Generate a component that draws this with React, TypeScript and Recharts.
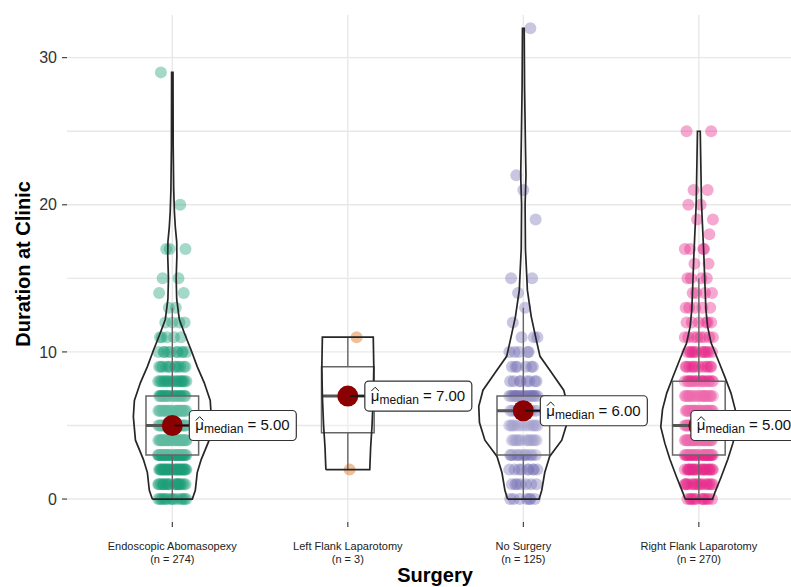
import React from "react";
import {
  CartesianGrid,
  ComposedChart,
  ReferenceArea,
  ReferenceLine,
  Scatter,
  XAxis,
  YAxis,
} from "recharts";

const FONT = "'Liberation Sans', Arial, Helvetica, sans-serif";

const CATEGORIES = [
  "Endoscopic Abomasopexy",
  "Left Flank Laparotomy",
  "No Surgery",
  "Right Flank Laparotomy",
];
const GROUP_N = [274, 3, 125, 270];
const COLORS = ["#1B9E77", "#D95F02", "#7570B3", "#E7298A"];

// box plot stats per group
const MEDIANS = [5, 7, 6, 5];
const Q1 = [3, 4.5, 3, 3];
const Q3 = [7, 9, 7, 8];
const WHISKER_LO = [0, 2, 0, 0];
const WHISKER_HI = [13, 11, 13, 15];

const Y_TICKS = [0, 10, 20, 30];
const Y_GRID = [0, 5, 10, 15, 20, 25, 30];

// [duration, number of animals]
const COUNTS_ENDO = [
  [0, 14], [1, 20], [2, 30], [3, 32], [4, 35], [5, 33], [6, 28], [7, 22],
  [8, 18], [9, 12], [10, 10], [11, 5], [12, 4], [13, 2], [14, 2], [15, 2],
  [17, 3], [20, 1], [29, 1],
];
const COUNTS_LEFT = [[2, 1], [7, 1], [11, 1]];
const COUNTS_NONE = [
  [0, 7], [1, 7], [2, 9], [3, 12], [4, 13], [5, 12], [6, 15], [7, 19],
  [8, 8], [9, 6], [10, 5], [11, 3], [12, 1], [13, 1], [14, 1], [15, 2],
  [19, 1], [21, 1], [22, 1], [32, 1],
];
const COUNTS_RIGHT = [
  [0, 12], [1, 16], [2, 22], [3, 28], [4, 30], [5, 30], [6, 26], [7, 22],
  [8, 18], [9, 12], [10, 12], [11, 8], [12, 6], [13, 5], [14, 4], [15, 4],
  [16, 2], [17, 4], [18, 1], [19, 2], [20, 2], [21, 2], [25, 2],
];

// hand-placed horizontal jitter offsets (category units)
const JITTER = [
  -0.05, 0.03, -0.08, 0.06, -0.01, 0.08, -0.06, 0.01, -0.03, 0.05, -0.07,
  0.07, 0.0, -0.04, 0.04, -0.02, 0.02, -0.075, 0.065, -0.055, 0.035, -0.015,
  0.075, -0.035, 0.045, -0.065, 0.015, -0.045, 0.055, -0.025, 0.025,
];

// violin outlines: [duration, half width in category units]
const VIOLIN_ENDO = [
  [0, 0.114], [0.6, 0.131], [1.8, 0.142], [2.7, 0.165], [4.0, 0.21],
  [5.6, 0.222], [6.7, 0.216], [7.9, 0.182], [9.0, 0.142], [10.1, 0.108],
  [11.3, 0.068], [12.2, 0.04], [13.6, 0.025], [15, 0.022], [16.5, 0.026],
  [17.5, 0.025], [18.5, 0.017], [19.5, 0.012], [21, 0.008], [24, 0.005],
  [29, 0.004],
];
const VIOLIN_LEFT = [
  [2, 0.125], [3.5, 0.13], [5, 0.138], [7, 0.145], [9, 0.148], [11, 0.145],
];
const VIOLIN_NONE = [
  [0, 0.09], [0.6, 0.105], [1.8, 0.122], [2.9, 0.15], [4.0, 0.219],
  [5.2, 0.25], [6.3, 0.254], [7.4, 0.23], [8.6, 0.16], [9.7, 0.095],
  [10.8, 0.074], [12.4, 0.045], [14.2, 0.023], [15, 0.02], [17, 0.012],
  [20, 0.01], [22, 0.015], [24, 0.012], [28, 0.007], [32, 0.005],
];
const VIOLIN_RIGHT = [
  [0, 0.078], [0.4, 0.09], [1.5, 0.127], [2.7, 0.165], [3.8, 0.194],
  [4.9, 0.217], [6.1, 0.207], [7.2, 0.183], [8.3, 0.148], [9.5, 0.108],
  [10.6, 0.07], [11.7, 0.05], [12.9, 0.04], [16.7, 0.028], [20.1, 0.015],
  [25, 0.008],
];

const COUNTS = [COUNTS_ENDO, COUNTS_LEFT, COUNTS_NONE, COUNTS_RIGHT];
const VIOLINS = [VIOLIN_ENDO, VIOLIN_LEFT, VIOLIN_NONE, VIOLIN_RIGHT];
const LABEL_DX = [17, 17, 17, -8];
const BOX_HALF = 0.15;

function jitterPoints(g: number) {
  const pts: { x: number; y: number }[] = [];
  let k = g * 7;
  COUNTS[g].forEach(([v, c]) => {
    for (let i = 0; i < c; i++) {
      pts.push({ x: g + 1 + JITTER[k % JITTER.length], y: v });
      k++;
    }
  });
  return pts;
}

function violinOutline(g: number) {
  const c = g + 1;
  const prof = VIOLINS[g];
  const left = prof.map(([y, w]) => ({ x: c - w, y }));
  const right = prof
    .slice()
    .reverse()
    .map(([y, w]) => ({ x: c + w, y }));
  return [...left, ...right, left[0]];
}

const medianData = MEDIANS.map((m, i) => ({
  x: i + 1,
  y: m,
  i,
  label: m.toFixed(2),
}));

function MedianLabel(props: any) {
  const { cx, cy, payload } = props;
  const dx = LABEL_DX[payload.i];
  const bx = cx + dx;
  return (
    <g>
      <circle cx={cx} cy={cy} r={10.5} fill="#8B0000" />
      {dx > 0 && (
        <line x1={cx + 2} y1={cy} x2={bx} y2={cy} stroke="#111" strokeWidth={1.5} />
      )}
      <rect
        x={bx}
        y={cy - 15}
        width={107}
        height={30}
        rx={4}
        fill="#fff"
        stroke="#333"
        strokeWidth={1.2}
      />
      <path
        d={`M${bx + 6.5},${cy - 5} L${bx + 10.3},${cy - 8.8} L${bx + 14.1},${cy - 5}`}
        fill="none"
        stroke="#111"
        strokeWidth={1}
      />
      <text x={bx + 6} y={cy + 5} fontSize={15} fill="#111" fontFamily={FONT}>
        μ
        <tspan fontSize={12} dy={3}>
          median
        </tspan>
        <tspan dy={-3}>{` = ${payload.label}`}</tspan>
      </text>
    </g>
  );
}

function XTick(props: any) {
  const { x, y, payload } = props;
  const i = Math.round(payload.value) - 1;
  return (
    <g fontFamily={FONT} fontSize={11} fill="#222">
      <text x={x} y={y + 21} textAnchor="middle">
        {CATEGORIES[i]}
      </text>
      <text x={x} y={y + 34} textAnchor="middle">
        {`(n = ${GROUP_N[i]})`}
      </text>
    </g>
  );
}

const hidden = () => <g />;

export default function App() {
  return (
    <div
      style={{
        position: "absolute",
        left: 0,
        top: 0,
        width: 791,
        height: 587,
        background: "#fff",
        overflow: "hidden",
      }}
    >
      <ComposedChart
        width={791}
        height={587}
        margin={{ top: 15, right: 0, bottom: 0, left: 0 }}
      >
        <CartesianGrid
          stroke="#e8e8e8"
          strokeWidth={1.4}
          horizontalValues={Y_GRID}
          verticalValues={[1, 2, 3, 4]}
        />
        <XAxis
          type="number"
          dataKey="x"
          domain={[0.4, 4.525]}
          ticks={[1, 2, 3, 4]}
          allowDataOverflow
          height={65}
          axisLine={false}
          tickSize={5}
          tickLine={{ stroke: "#333", strokeWidth: 1.1 }}
          tick={<XTick />}
          label={{
            content: () => (
              <text
                x={435}
                y={582}
                textAnchor="middle"
                fontFamily={FONT}
                fontWeight="bold"
                fontSize={20}
                fill="#000"
              >
                Surgery
              </text>
            ),
          }}
        />
        <YAxis
          type="number"
          dataKey="y"
          domain={[-1.56, 32.9]}
          ticks={Y_TICKS}
          allowDataOverflow
          width={67}
          axisLine={false}
          tickSize={5}
          tickMargin={5}
          tickLine={{ stroke: "#333", strokeWidth: 1.1 }}
          tick={{ fontSize: 16, fill: "#333", fontFamily: FONT }}
          label={{
            content: () => (
              <text
                x={30}
                y={264}
                transform="rotate(-90, 30, 264)"
                textAnchor="middle"
                fontFamily={FONT}
                fontWeight="bold"
                fontSize={20}
                fill="#000"
              >
                Duration at Clinic
              </text>
            ),
          }}
        />

        {CATEGORIES.map((_, g) => (
          <Scatter
            key={`pts-${g}`}
            data={jitterPoints(g)}
            fill={COLORS[g]}
            isAnimationActive={false}
            zIndex={600}
            shape={(p: any) => (
              <circle cx={p.cx} cy={p.cy} r={6} fill={COLORS[g]} fillOpacity={0.4} />
            )}
          />
        ))}

        {CATEGORIES.map((_, g) => (
          <ReferenceArea
            key={`box-${g}`}
            x1={g + 1 - BOX_HALF}
            x2={g + 1 + BOX_HALF}
            y1={Q1[g]}
            y2={Q3[g]}
            fill="#fff"
            fillOpacity={0.3}
            stroke="#666"
            strokeWidth={1.5}
            zIndex={700}
          />
        ))}
        {CATEGORIES.map((_, g) => (
          <ReferenceLine
            key={`wu-${g}`}
            segment={[
              { x: g + 1, y: Q3[g] },
              { x: g + 1, y: WHISKER_HI[g] },
            ]}
            stroke="#666"
            strokeWidth={1.4}
            zIndex={710}
          />
        ))}
        {CATEGORIES.map((_, g) => (
          <ReferenceLine
            key={`wl-${g}`}
            segment={[
              { x: g + 1, y: Q1[g] },
              { x: g + 1, y: WHISKER_LO[g] },
            ]}
            stroke="#666"
            strokeWidth={1.4}
            zIndex={710}
          />
        ))}
        {CATEGORIES.map((_, g) => (
          <ReferenceLine
            key={`med-${g}`}
            segment={[
              { x: g + 1 - BOX_HALF, y: MEDIANS[g] },
              { x: g + 1 + BOX_HALF, y: MEDIANS[g] },
            ]}
            stroke="#555"
            strokeWidth={3}
            zIndex={710}
          />
        ))}

        {CATEGORIES.map((_, g) => (
          <Scatter
            key={`vio-${g}`}
            data={violinOutline(g)}
            fill="#262626"
            line={{ stroke: "#262626", strokeWidth: 1.7 }}
            shape={hidden}
            isAnimationActive={false}
            zIndex={800}
          />
        ))}

        <Scatter
          data={medianData}
          fill="#8B0000"
          shape={MedianLabel}
          isAnimationActive={false}
          zIndex={900}
        />
      </ComposedChart>
    </div>
  );
}
